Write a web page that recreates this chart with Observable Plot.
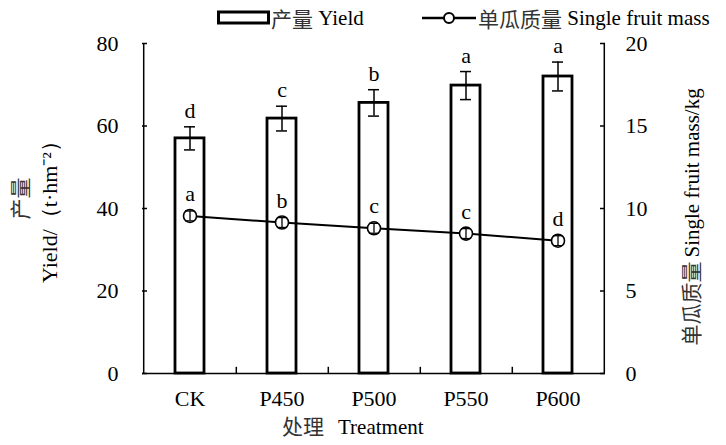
<!DOCTYPE html>
<html>
<head>
<meta charset="utf-8">
<script src="https://cdn.jsdelivr.net/npm/d3@7"></script>
<script src="https://cdn.jsdelivr.net/npm/@observablehq/plot@0.6"></script>
<style>
  html, body { margin: 0; padding: 0; background: white; }
  #wrap { position: relative; width: 726px; height: 445px; }
  .leg { position: absolute; top: 4px; font-size: 21px; line-height: 28px; display: flex; align-items: center; white-space: nowrap; color: black; }
  .leg svg { display: block; }
  .cjk { font-family: "Noto Sans CJK SC", sans-serif; color: #333; }
  .lat { font-family: "Liberation Serif", serif; }
</style>
</head>
<body>
<div id="wrap"></div>
<script>
const categories = ["CK", "P450", "P500", "P550", "P600"];
const yieldMean = [57.0, 61.8, 65.6, 69.8, 72.0];
const yieldErr = [2.8, 3.0, 3.2, 3.4, 3.5];
const yieldLetters = ["d", "c", "b", "a", "a"];
const massMean = [9.55, 9.15, 8.8, 8.48, 8.05];
const massErr = [0.3, 0.3, 0.3, 0.3, 0.3];
const massLetters = ["a", "b", "c", "c", "d"];
const yieldTicks = [0, 20, 40, 60, 80];
const massTicks = [0, 5, 10, 15, 20];

const massToYield = 80 / 20; // right axis 0–20 maps onto left axis 0–80

const data = categories.map((c, i) => ({
  cat: c,
  yld: yieldMean[i], ye: yieldErr[i], yl: yieldLetters[i],
  mass: massMean[i], me: massErr[i], ml: massLetters[i]
}));

const W = 726, H = 445, ML = 142, MR = 121, MT = 43, MB = 72;
const frameW = W - ML - MR;
const step = frameW / categories.length;
const SERIF = "'Liberation Serif', serif";
const CJK = "'Noto Sans CJK SC', sans-serif";

const chart = Plot.plot({
  width: W, height: H,
  marginLeft: ML, marginRight: MR, marginTop: MT, marginBottom: MB,
  style: { fontFamily: SERIF, fontSize: "22px", color: "black", background: "white" },
  x: { domain: categories, paddingInner: 0.68, paddingOuter: 0.34, label: null },
  y: { domain: [0, 80], label: null },
  marks: [
    // bars
    Plot.barY(data, { x: "cat", y: "yld", fill: "white", stroke: "black", strokeWidth: 2.8 }),
    // yield error bars
    Plot.ruleX(data, { x: "cat", y1: d => d.yld - d.ye, y2: d => d.yld + d.ye, stroke: "black", strokeWidth: 1.5 }),
    Plot.tickY(data, { x: "cat", y: d => d.yld + d.ye, insetLeft: 9, insetRight: 9, stroke: "black", strokeWidth: 1.5 }),
    Plot.tickY(data, { x: "cat", y: d => d.yld - d.ye, insetLeft: 9, insetRight: 9, stroke: "black", strokeWidth: 1.5 }),
    Plot.text(data, { x: "cat", y: d => d.yld + d.ye, text: "yl", dy: -9, lineAnchor: "bottom", fontSize: 22, fontFamily: SERIF }),
    // mass line
    Plot.line(data, { x: "cat", y: d => d.mass * massToYield, stroke: "black", strokeWidth: 2 }),
    Plot.dot(data, { x: "cat", y: d => d.mass * massToYield, r: 6.5, fill: "white", stroke: "black", strokeWidth: 1.6 }),
    Plot.ruleX(data, { x: "cat", y1: d => (d.mass - d.me) * massToYield, y2: d => (d.mass + d.me) * massToYield, stroke: "black", strokeWidth: 1.3 }),
    Plot.tickY(data, { x: "cat", y: d => (d.mass + d.me) * massToYield, insetLeft: 10, insetRight: 10, stroke: "black", strokeWidth: 1.3 }),
    Plot.tickY(data, { x: "cat", y: d => (d.mass - d.me) * massToYield, insetLeft: 10, insetRight: 10, stroke: "black", strokeWidth: 1.3 }),
    Plot.text(data, { x: "cat", y: d => d.mass * massToYield, text: "ml", dy: -15, lineAnchor: "bottom", fontSize: 22, fontFamily: SERIF }),
    // axis lines
    Plot.ruleY([0], { stroke: "black", strokeWidth: 1.5 }),
    Plot.ruleX([categories[0]], { y1: 0, y2: 80, dx: -step / 2, stroke: "black", strokeWidth: 1.5 }),
    Plot.ruleX([categories[categories.length - 1]], { y1: 0, y2: 80, dx: step / 2, stroke: "black", strokeWidth: 1.5 }),
    // inner ticks
    Plot.ruleX(categories.slice(0, -1), { y1: 0, y2: 1.5, dx: step / 2, stroke: "black", strokeWidth: 1.5 }),
    Plot.ruleY(yieldTicks, { insetRight: frameW - 5, stroke: "black", strokeWidth: 1.5 }),
    Plot.ruleY(massTicks.map(v => v * massToYield), { insetLeft: frameW - 5, stroke: "black", strokeWidth: 1.5 }),
    // axes
    Plot.axisX({ tickSize: 0, tickPadding: 17, fontSize: 22, label: null }),
    Plot.axisY({ anchor: "left", ticks: yieldTicks, tickSize: 0, tickPadding: 24, fontSize: 22, label: null }),
    Plot.axisY({ anchor: "right", ticks: massTicks.map(v => v * massToYield), tickFormat: d => d / massToYield, tickSize: 0, tickPadding: 20, fontSize: 22, label: null }),
    // left axis title
    Plot.text(["产量"], { frameAnchor: "left", textAnchor: "middle", dx: -121, dy: -10, rotate: -90, fontSize: 21, fontFamily: CJK, fill: "#333" }),
    Plot.text(["Yield/（t·hm⁻²）"], { frameAnchor: "left", textAnchor: "middle", dx: -93, dy: -2, rotate: -90, fontSize: 22, fontFamily: SERIF, fill: "black" }),
    // right axis title
    Plot.text(["单瓜质量"], { frameAnchor: "right", dx: 87, dy: 137, rotate: -90, textAnchor: "start", fontSize: 21, fontFamily: CJK, fill: "#333" }),
    Plot.text(["Single fruit mass/kg"], { frameAnchor: "right", dx: 87, dy: 49, rotate: -90, textAnchor: "start", fontSize: 21, fontFamily: SERIF, fill: "black" }),
    // x axis title
    Plot.text(["处理"], { frameAnchor: "bottom", textAnchor: "end", dx: -50, dy: 60, fontSize: 21, fontFamily: CJK, fill: "#333" }),
    Plot.text(["Treatment"], { frameAnchor: "bottom", textAnchor: "start", dx: -36, dy: 60, fontSize: 21, fontFamily: SERIF, fill: "black" })
  ]
});

const wrap = document.getElementById("wrap");
wrap.appendChild(chart);

// legend
const leg1 = document.createElement("div");
leg1.className = "leg";
leg1.style.left = "217px";
leg1.innerHTML = '<svg width="54" height="16"><rect x="1.5" y="2" width="50" height="11" fill="white" stroke="black" stroke-width="3"/></svg><span class="cjk">产量</span><span class="lat">&nbsp;Yield</span>';
wrap.appendChild(leg1);

const leg2 = document.createElement("div");
leg2.className = "leg";
leg2.style.left = "422px";
leg2.innerHTML = '<svg width="56" height="16"><line x1="0" y1="8" x2="54" y2="8" stroke="black" stroke-width="2.5"/><circle cx="27" cy="8" r="5" fill="white" stroke="black" stroke-width="2"/></svg><span class="cjk">单瓜质量</span><span class="lat">&nbsp;Single fruit mass</span>';
wrap.appendChild(leg2);
</script>
</body>
</html>
